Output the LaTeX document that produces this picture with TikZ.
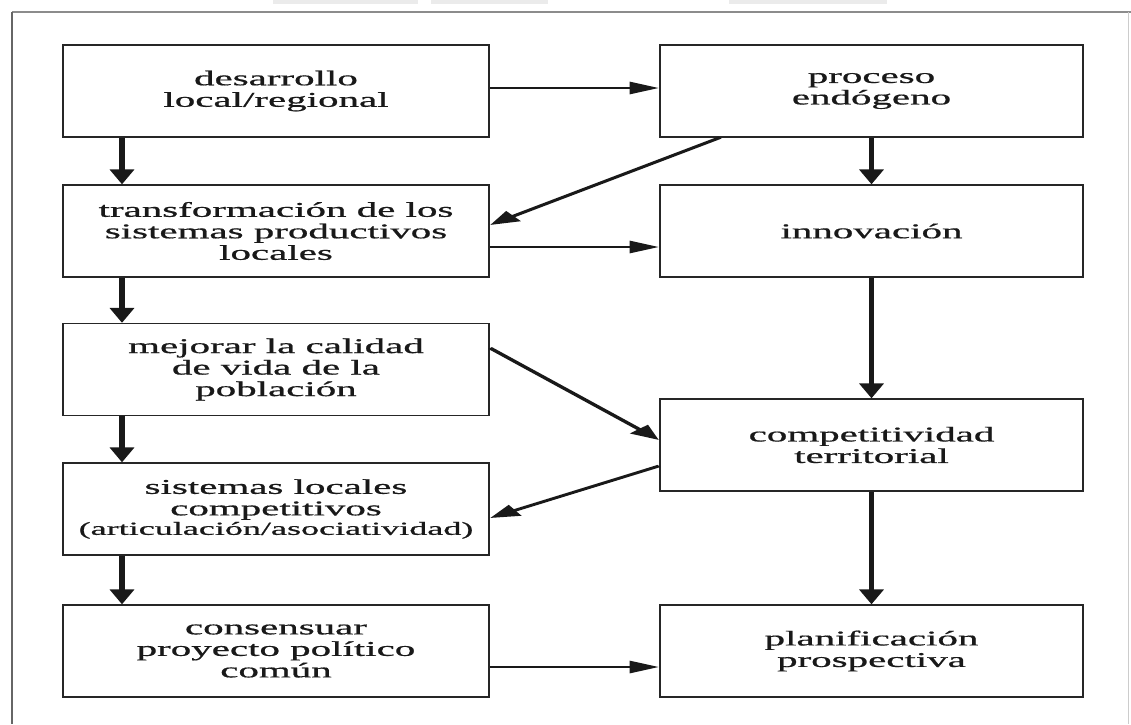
\documentclass[tikz,border=0pt]{standalone}
\usepackage{fontspec}
\setmainfont[FakeBold=0.6]{Liberation Serif}
\usetikzlibrary{arrows.meta}
\tikzset{
  box/.style={draw=black!85, line width=1.1pt, rectangle, inner sep=0pt,
    minimum height=92pt, align=center, text=black!90,
    font=\fontsize{21}{21.5}\selectfont},
  lbox/.style={box, minimum width=218.46pt},
  rbox/.style={box, minimum width=216.92pt},
  arr/.style={line width=2.6pt, black!90, -{Triangle[length=15pt,width=12pt]}},
  frame/.style={line width=1.2pt, black!45},
  smudge/.style={fill=black!8, draw=none},
}
\begin{document}
\begin{tikzpicture}[x=1pt,y=-1pt]
\useasboundingbox (0,0) rectangle (1131,724);
\fill[white] (0,0) rectangle (1131,724);
% scan artefacts at the top
\fill[smudge] (273,0) rectangle (418,4);
\fill[smudge] (431,0) rectangle (548,4);
\fill[smudge] (729,0) rectangle (887,4);
% outer frame
\draw[frame] (12,12) -- (1131,12);
\draw[frame, line width=2pt, black!60] (12,12) -- (12,724);
\draw[frame, line width=0.8pt, black!20] (1128,12) -- (1128,724);
\begin{scope}[transform canvas={xscale=1.95}, x=0.51282pt]
  \node[lbox] (b1) at (276,91) {desarrollo\\local/regional};
  \node[lbox] (b2) at (276,231) {transformación de los\\sistemas productivos\\locales};
  \node[lbox] (b3) at (276,369.5) {mejorar la calidad\\de vida de la\\población};
  \node[lbox] (b4) at (276,509) {sistemas locales\\competitivos\\[-2pt]{\fontsize{18.5}{19}\selectfont (articulación/asociatividad)}};
  \node[lbox] (b5) at (276,651) {consensuar\\proyecto político\\común};
  \node[rbox] (r1) at (871.5,91) {proceso\\endógeno};
  \node[rbox] (r2) at (871.5,231) {innovación};
  \node[rbox] (r3) at (871.5,445) {competitividad\\territorial};
  \node[rbox] (r4) at (871.5,651) {planificación\\prospectiva};
  % left column
  \draw[arr] (b1.south -| 122,0) -- (b2.north -| 122,0);
  \draw[arr] (b2.south -| 122,0) -- (b3.north -| 122,0);
  \draw[arr] (b3.south -| 122,0) -- (b4.north -| 122,0);
  \draw[arr] (b4.south -| 122,0) -- (b5.north -| 122,0);
  % right column
  \draw[arr] (r1.south) -- (r2.north);
  \draw[arr] (r2.south) -- (r3.north);
  \draw[arr] (r3.south) -- (r4.north);
  % cross links
  \draw[arr] (b1.east |- 0,88) -- (r1.west |- 0,88);
  \draw[arr] (r1.south -| 720,0) -- (b2.east |- 0,225);
  \draw[arr] (b2.east |- 0,247) -- (r2.west |- 0,247);
  \draw[arr] (b3.east |- 0,348) -- (r3.west |- 0,440);
  \draw[arr] (r3.west |- 0,466) -- (b4.east |- 0,518);
  \draw[arr] (b5.east |- 0,667) -- (r4.west |- 0,667);
\end{scope}
\end{tikzpicture}
\end{document}
